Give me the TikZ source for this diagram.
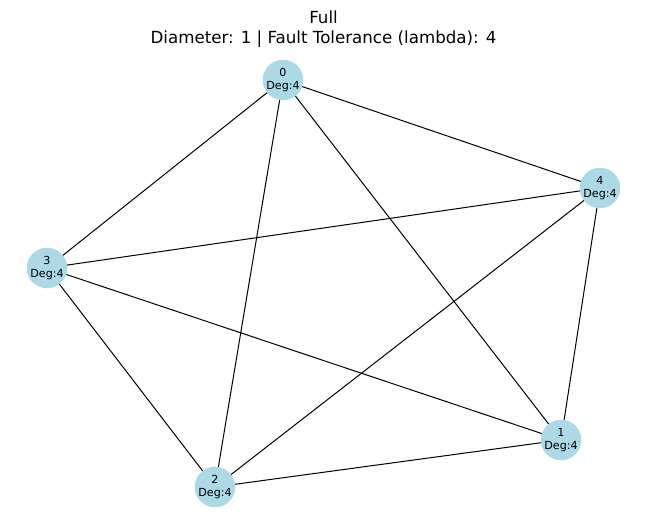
\documentclass[tikz,border=0pt]{standalone}
\usepackage{fontspec}
\setmainfont{DejaVu Sans}
\begin{document}
\begin{tikzpicture}[x=0.72pt,y=-0.72pt,
  vert/.style={circle,fill={rgb,255:red,173;green,216;blue,230},minimum size=40*0.72pt,inner sep=0pt,font=\fontsize{8}{9.2}\selectfont,align=center},
  edge/.style={black,line width=0.72pt}]
\useasboundingbox (0,0) rectangle (647,528);
\node[font=\fontsize{12}{14}\selectfont] (t1) at (323.5,17) {Full};
\node[font=\fontsize{12}{14}\selectfont] (t2) at (323.5,39) {Diameter: 1 | Fault Tolerance (lambda): 4};
\coordinate (p0) at (283,80);
\coordinate (p4) at (600,188);
\coordinate (p3) at (47,268);
\coordinate (p1) at (561,440);
\coordinate (p2) at (215,487);
\foreach \a/\b in {0/1,0/2,0/3,0/4,1/2,1/3,1/4,2/3,2/4,3/4}
  \draw[edge] (p\a) -- (p\b);
\node[vert] (n0) at (p0) {0\\Deg:4};
\node[vert] (n4) at (p4) {4\\Deg:4};
\node[vert] (n3) at (p3) {3\\Deg:4};
\node[vert] (n1) at (p1) {1\\Deg:4};
\node[vert] (n2) at (p2) {2\\Deg:4};
\end{tikzpicture}
\end{document}
